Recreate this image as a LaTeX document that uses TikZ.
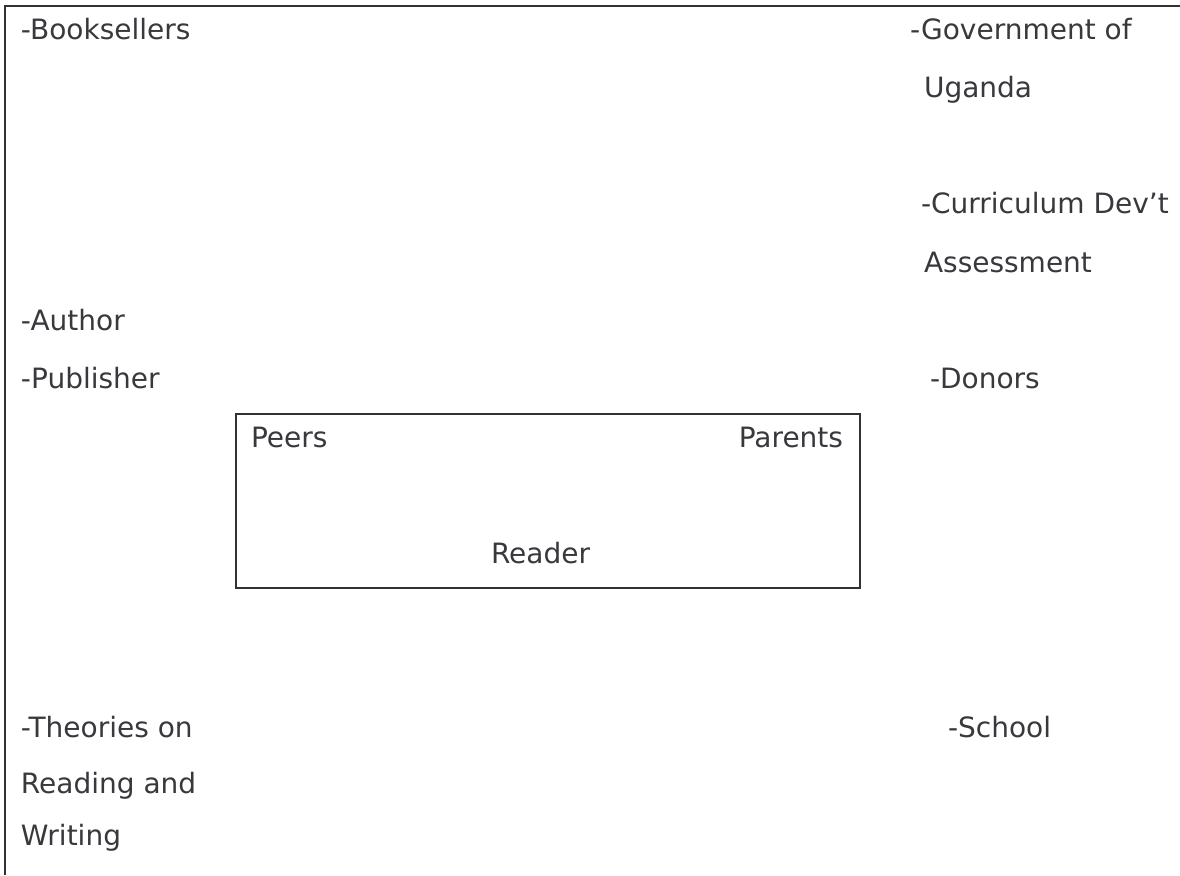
\documentclass[tikz,border=0pt]{standalone}
\usepackage{fontspec}
\setmainfont{DejaVu Sans}
\definecolor{ink}{HTML}{38383D}
\definecolor{rule}{HTML}{323236}
\tikzset{
  lbl/.style={anchor=base west, inner sep=0pt, outer sep=0pt, text=ink,
    font=\fontsize{21}{25}\selectfont},
  frameline/.style={draw=rule, line width=1.9pt},
}
\begin{document}
\begin{tikzpicture}[x=0.75pt,y=-0.75pt]
\useasboundingbox (0,0) rectangle (1180,875);
% outer frame (top and left only)
\coordinate (ftr) at (1180,6);
\coordinate (ftl) at (5,6);
\coordinate (fbl) at (5,875);
\draw[frameline] (ftr) -- (ftl) -- (fbl);
% inner box
\node (box) [frameline, minimum width=468pt, minimum height=130.5pt, inner sep=0pt] at (548,501) {};
% left column
\node (booksellers) [lbl] at (21,39) {-Booksellers};
\node (author) [lbl] at (21,330) {-Author};
\node (publisher) [lbl] at (21,388) {-Publisher};
\node (theories) [lbl] at (21,737) {-Theories on};
\node (reading) [lbl] at (21,793) {Reading and};
\node (writing) [lbl] at (21,845) {Writing};
% right column
\node (gov) [lbl] at (910,39) {-Government of};
\node (uganda) [lbl] at (924,97) {Uganda};
\node (curr) [lbl] at (921,213) {-Curriculum Dev’t};
\node (assess) [lbl] at (924,272) {Assessment};
\node (donors) [lbl] at (930,388) {-Donors};
\node (school) [lbl] at (948,737) {-School};
% inside box
\node (peers) [lbl] at (251,447) {Peers};
\node (parents) [lbl, anchor=base east] at (843,447) {Parents};
\node (reader) [lbl] at (491,563) {Reader};
\end{tikzpicture}
\end{document}
